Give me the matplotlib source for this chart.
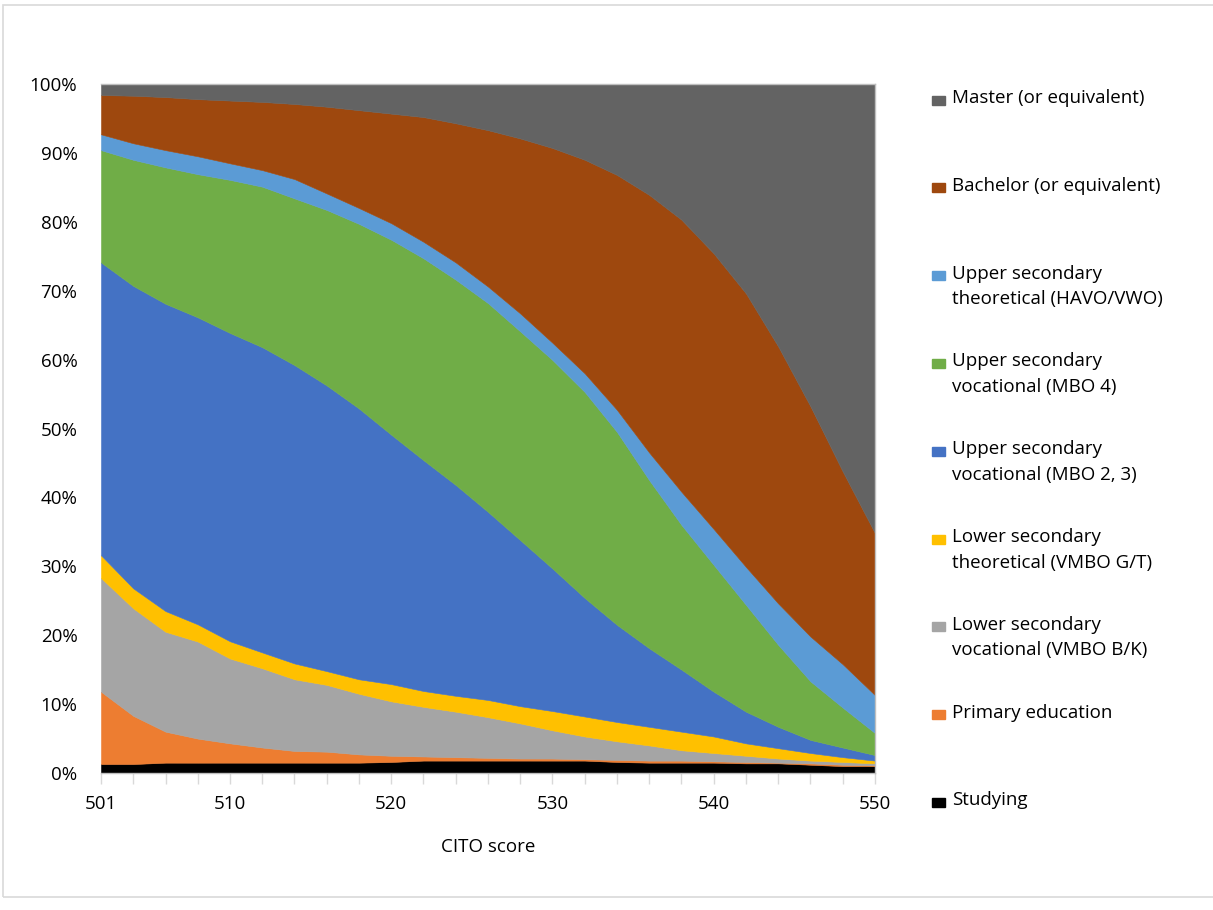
import matplotlib.pyplot as plt
from matplotlib.patches import Rectangle
import numpy as np

plt.rcParams['font.family'] = ['Open Sans', 'DejaVu Sans']

# CITO score categories (only some are labelled on the axis)
x_labels = ['501', '', '', '', '510', '', '', '', '', '520', '', '', '', '',
            '530', '', '', '', '', '540', '', '', '', '', '550']

# shares in % per category, bottom to top
studying = [1.3, 1.3, 1.5, 1.5, 1.5, 1.5, 1.5, 1.5, 1.5, 1.6, 1.8, 1.8, 1.8,
            1.8, 1.8, 1.8, 1.6, 1.5, 1.5, 1.5, 1.4, 1.4, 1.2, 1.0, 1.0]
primary = [10.5, 7.0, 4.5, 3.5, 2.8, 2.2, 1.7, 1.6, 1.2, 0.9, 0.6, 0.5, 0.4,
           0.3, 0.3, 0.2, 0.3, 0.3, 0.3, 0.2, 0.2, 0.1, 0.2, 0.2, 0.1]
vmbo_bk = [16.5, 15.6, 14.5, 14.1, 12.3, 11.5, 10.4, 9.7, 8.8, 7.9, 7.2, 6.6, 5.9,
           5.1, 4.1, 3.3, 2.7, 2.2, 1.5, 1.2, 0.9, 0.6, 0.4, 0.4, 0.3]
vmbo_gt = [3.3, 2.9, 3.0, 2.5, 2.5, 2.3, 2.3, 2.0, 2.1, 2.5, 2.3, 2.3, 2.5,
           2.5, 2.8, 2.9, 2.8, 2.7, 2.7, 2.4, 1.8, 1.5, 1.1, 0.7, 0.4]
mbo_23 = [42.5, 43.9, 44.6, 44.6, 44.7, 44.3, 43.3, 41.5, 39.3, 36.2, 33.5, 30.6, 27.3,
          24.1, 20.7, 17.2, 14.1, 11.4, 9.0, 6.5, 4.6, 3.1, 1.9, 1.4, 0.8]
mbo_4 = [16.3, 18.3, 19.8, 20.8, 22.2, 23.3, 24.2, 25.5, 26.8, 28.3, 29.3, 29.8, 30.3,
         30.3, 30.3, 29.9, 28.0, 24.4, 21.0, 18.4, 15.5, 11.9, 8.5, 5.8, 3.2]
havo_vwo = [2.3, 2.4, 2.5, 2.6, 2.4, 2.4, 2.8, 2.4, 2.3, 2.4, 2.4, 2.5, 2.4,
            2.6, 2.5, 2.7, 3.2, 4.0, 4.8, 5.2, 5.5, 6.0, 6.5, 6.3, 5.5]
bachelor = [5.7, 6.9, 7.7, 8.3, 9.1, 9.9, 10.9, 12.6, 14.2, 15.9, 18.1, 20.2, 22.7,
            25.4, 28.3, 31.0, 34.1, 37.4, 39.5, 40.0, 39.7, 37.3, 33.4, 28.0, 23.5]
master = [1.6, 1.7, 1.9, 2.2, 2.4, 2.6, 2.9, 3.3, 3.8, 4.3, 4.8, 5.7, 6.7,
          7.9, 9.3, 11.0, 13.2, 16.1, 19.7, 24.6, 30.4, 38.1, 46.8, 56.3, 65.2]

labels = ['Studying', 'Primary education',
          'Lower secondary\nvocational (VMBO B/K)',
          'Lower secondary\ntheoretical (VMBO G/T)',
          'Upper secondary\nvocational (MBO 2, 3)',
          'Upper secondary\nvocational (MBO 4)',
          'Upper secondary\ntheoretical (HAVO/VWO)',
          'Bachelor (or equivalent)', 'Master (or equivalent)']
colors = ['#000000', '#ED7D31', '#A5A5A5', '#FFC000', '#4472C4',
          '#70AD47', '#5B9BD5', '#9E480E', '#636363']

data = np.array([studying, primary, vmbo_bk, vmbo_gt, mbo_23, mbo_4,
                 havo_vwo, bachelor, master], dtype=float)
data = data / data.sum(axis=0) * 100
x = np.arange(len(x_labels))

W, H = 1213, 910
fs = 13.5
fig = plt.figure(figsize=(W / 100, H / 100), dpi=100)
ax = fig.add_axes([101 / W, 1 - 773 / H, 774 / W, 689 / H])

polys = ax.stackplot(x, data, colors=colors)
for p, c in zip(polys, colors):
    p.set_edgecolor(c)
    p.set_linewidth(0.4)

ax.set_xlim(0, len(x) - 1)
ax.set_ylim(0, 100)
ax.set_yticks(np.arange(0, 101, 10))
ax.set_yticklabels(['%d%%' % v for v in range(0, 101, 10)])
ax.set_xticks(x)
ax.set_xticklabels(x_labels)
ax.tick_params(axis='y', length=0, pad=17, labelsize=fs, labelcolor='#000000')
ax.tick_params(axis='x', length=8, width=1, color='#D9D9D9', pad=8,
               labelsize=fs, labelcolor='#000000')
for side in ['top', 'right', 'bottom']:
    ax.spines[side].set_color('#BFBFBF')
    ax.spines[side].set_linewidth(1)
ax.spines['left'].set_visible(False)
ax.set_xlabel('CITO score', fontsize=fs, labelpad=18)

# legend on the right, top entry first
for k, i in enumerate(range(len(labels) - 1, -1, -1)):
    ytop = 100 + k * 87.8
    fig.patches.append(Rectangle((932 / W, 1 - (ytop + 4.5) / H), 13 / W, 9 / H,
                                 transform=fig.transFigure, color=colors[i]))
    fig.text(952 / W, 1 - (ytop - 11) / H, labels[i], fontsize=fs,
             va='top', ha='left', linespacing=1.55)

# chart border
fig.patches.append(Rectangle((3 / W, 1 - 897 / H), 1215 / W, 892 / H,
                             transform=fig.transFigure, fill=False,
                             edgecolor='#D9D9D9', linewidth=1.2))

fig.savefig('out.png', dpi=100)
